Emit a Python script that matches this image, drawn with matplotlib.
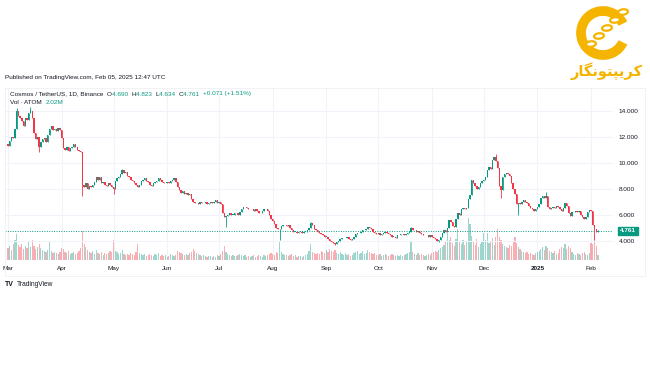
import matplotlib
matplotlib.use("Agg")
import matplotlib.pyplot as plt
import numpy as np
import pandas as pd
from matplotlib.patches import Rectangle, Arc, Ellipse

# ATOM/USDT daily closes, 2024-03-01 .. 2025-02-05
closes = [
    11.3, 11.7, 12.0, 11.9, 12.6, 14.0, 13.6, 13.4, 13.2, 12.8, 13.4, 13.3, 13.8, 14.0,
    13.4, 12.3, 11.8, 12.0, 11.2, 11.6, 11.8, 11.9, 11.6, 12.1, 12.6, 12.8, 12.5, 12.6,
    12.4, 12.7, 12.5,
    11.9, 11.1, 11.0, 11.2, 10.9, 11.1, 11.2, 11.4, 11.2, 11.0, 10.9, 10.8, 8.3, 8.1,
    8.4, 8.0, 8.2, 8.1, 8.3, 8.5, 8.9, 8.7, 8.9, 8.4, 8.5, 8.3, 8.2, 8.4, 8.3, 8.1,
    8.0, 8.6, 8.8, 8.9, 9.1, 9.4, 9.2, 9.3, 9.0, 8.9, 8.7, 8.6, 8.4, 8.3, 8.1, 8.3,
    8.6, 8.7, 8.8, 8.6, 8.5, 8.3, 8.2, 8.4, 8.5, 8.6, 8.8, 8.7, 8.5, 8.4, 8.4,
    8.5, 8.4, 8.6, 8.7, 8.8, 8.5, 8.1, 7.9, 7.7, 7.8, 7.6, 7.7, 7.5, 7.6, 7.2, 7.0,
    6.9, 6.9, 6.8, 7.0, 6.9, 6.9, 7.0, 6.8, 6.9, 7.0, 6.9, 7.0, 7.1, 6.9,
    7.0, 6.8, 6.1, 5.8, 5.9, 6.0, 6.1, 6.0, 6.0, 6.1, 6.1, 6.0, 6.2, 6.4, 6.6, 6.6,
    6.5, 6.4, 6.4, 6.4, 6.3, 6.4, 6.3, 6.1, 6.1, 6.3, 6.4, 6.4, 6.3, 6.0, 5.7,
    5.5, 5.3, 5.0, 4.9, 4.9, 5.1, 5.2, 5.2, 5.1, 5.2, 5.0, 4.8, 4.7, 4.7, 4.6, 4.7,
    4.7, 4.6, 4.7, 4.7, 4.8, 5.0, 5.35, 5.2, 4.9, 4.8, 4.7, 4.6, 4.5, 4.4, 4.3,
    4.3, 4.1, 4.0, 3.9, 3.8, 3.75, 3.9, 4.0, 4.1, 4.2, 4.2, 4.2, 4.25, 4.1, 4.05,
    4.1, 4.3, 4.5, 4.6, 4.6, 4.7, 4.8, 4.8, 4.9, 5.05, 5.0, 4.9, 4.7, 4.6, 4.5,
    4.6, 4.4, 4.5, 4.6, 4.7, 4.6, 4.5, 4.4, 4.3, 4.3, 4.2, 4.4, 4.4, 4.5, 4.5, 4.4,
    4.5, 4.6, 4.7, 4.95, 4.8, 4.8, 4.7, 4.75, 4.6, 4.5, 4.4, 4.4, 4.4, 4.3, 4.4,
    4.3, 4.2, 4.1, 4.0, 4.05, 4.3, 4.6, 4.8, 4.7, 5.0, 5.6, 5.4, 5.1, 5.05, 5.7, 6.1,
    6.0, 6.4, 6.5, 6.4, 6.5, 7.2, 7.5, 8.7, 8.4, 8.2, 8.0, 8.1, 8.4, 8.6,
    8.7, 8.9, 9.4, 9.7, 9.5, 10.2, 10.4, 10.1, 9.6, 8.2, 7.9, 8.9, 9.1, 9.2, 9.1, 9.0,
    8.4, 8.0, 7.6, 6.8, 6.9, 6.8, 7.0, 7.1, 7.0, 6.9, 6.7, 6.5, 6.4, 6.3, 6.4,
    6.6, 6.8, 7.3, 7.4, 7.3, 7.4, 6.6, 6.4, 6.5, 6.6, 6.5, 6.7, 6.6, 6.4, 6.3, 6.5,
    6.9, 6.7, 6.1, 5.9, 6.2, 6.2, 6.3, 6.2, 6.3, 6.0, 5.8, 5.7, 5.8, 6.2, 6.35,
    6.3, 5.2, 4.9, 4.69, 4.761,
]
first_open = 11.4

# visible wicks (day index -> price)
wick_highs = {5: 14.2, 13: 14.3, 66: 9.5, 175: 5.45, 233: 5.05, 282: 10.7, 311: 7.75, 341: 4.823}
wick_lows = {18: 10.8, 43: 7.4, 61: 7.6, 126: 5.05, 157: 4.05, 189: 3.65, 249: 3.9,
             285: 7.3, 295: 6.0, 339: 4.05, 341: 4.634}

# daily volume, millions of ATOM
volumes = [
    4.8, 5.6, 4.0, 6.4, 8.0, 10.4, 6.0, 5.2, 6.4, 4.4, 5.6, 4.8, 7.2, 5.2,
    8.0, 5.6, 4.4, 5.2, 6.4, 4.8, 4.0, 3.6, 3.2, 4.0, 7.2, 3.6, 2.8, 3.2, 2.8, 2.4, 3.2,
    4.8, 4.4, 3.2, 2.8, 3.6, 2.4, 2.8, 3.2, 2.4, 2.8, 3.6, 4.8, 11.6,
    6.4, 5.2, 4.0, 3.2, 2.8, 3.6, 2.4, 4.0, 2.8, 2.4, 3.2, 2.0, 2.8, 2.4,
    2.8, 3.6, 3.2, 8.0, 3.6, 3.2, 2.4, 2.8, 4.0, 2.4, 2.0, 2.4, 2.0, 2.8, 2.4, 2.0, 3.2, 6.4,
    2.8, 2.4, 2.0, 2.4, 1.6, 2.0, 2.4, 2.0, 1.6, 2.4, 2.0, 2.8, 1.6, 2.0,
    1.6, 2.0, 1.2, 1.6, 2.4, 2.0, 1.6, 2.0, 3.6, 3.2, 2.8, 2.4, 2.0, 2.4,
    2.0, 2.8, 3.2, 4.4, 3.6, 2.8, 2.4, 2.0, 1.6, 2.0, 1.6, 1.2, 1.6, 1.6,
    1.2, 1.6, 1.2, 2.0, 1.6, 2.4, 3.6, 5.6, 3.2, 2.4, 2.0, 1.6, 2.0, 1.6,
    1.6, 2.0, 2.4, 2.0, 1.6, 2.0, 1.2, 1.6, 1.2, 1.6, 2.0, 1.2, 1.6, 2.0,
    1.6, 1.2, 2.0, 1.6, 2.0, 2.4, 2.8, 2.4, 2.0, 3.2, 2.8, 7.6,
    3.2, 2.4, 2.0, 2.0, 1.6, 2.0, 2.4, 1.6, 2.0, 1.2, 1.6, 1.6, 1.2, 1.6,
    2.0, 2.4, 3.6, 6.4, 3.2, 2.8, 2.4, 2.8, 2.4, 3.6, 3.2, 2.8, 4.0, 3.2,
    4.4, 3.6, 3.2, 4.0, 2.8, 2.4, 3.2, 2.4, 2.0, 2.8, 2.0, 2.4, 1.6, 2.0,
    2.8, 3.2, 3.6, 2.4, 2.8, 3.6, 2.4, 2.8, 4.0, 3.2, 2.8, 2.4, 2.8, 2.0,
    2.0, 2.4, 1.6, 2.0, 2.4, 2.0, 1.6, 2.0, 2.4, 2.0, 1.6, 2.0, 1.6, 2.0,
    1.6, 2.0, 2.4, 2.8, 3.2, 7.6, 3.2, 2.4, 2.0, 2.8, 2.0, 2.4, 2.0, 1.6,
    2.0, 2.4, 2.0, 2.8, 3.2, 3.6, 3.2,
    4.0, 4.8, 5.2, 6.0, 7.2, 11.0, 8.0, 9.2, 6.8, 5.6, 8.4, 12.4, 7.2, 6.4, 8.0, 6.0,
    7.6, 17.0, 14.4, 9.6, 7.2, 6.0, 8.4, 5.2, 6.4, 7.6, 11.0, 8.0, 11.0, 6.8, 7.6,
    8.8, 6.0, 9.2, 12.4, 9.2, 8.0, 6.4, 5.6, 5.2, 4.8, 6.0, 5.6, 7.2, 9.2, 6.8,
    5.2, 4.4, 3.6, 3.2, 2.8, 3.2, 2.4, 2.8, 2.4, 2.0, 2.8, 3.2, 3.6, 4.4, 5.2,
    4.0, 5.6, 4.8, 3.6, 3.2, 2.8, 3.6, 2.4, 2.8, 4.4, 5.2, 4.8, 6.4, 4.4, 5.6,
    4.8, 3.2, 2.4, 2.0, 2.8, 2.4, 2.0, 2.8, 3.2, 2.4, 2.0, 2.8, 6.8, 6.4, 10.8,
    5.6, 2.02,
]

price_ticks = [4, 6, 8, 10, 12, 14]
last_price = 4.761

UP = "#089981"
DOWN = "#F23645"
TXT = "#131722"
GRID = "#F0F3FA"
GOLD = "#F5B400"

W, H = 650, 365


def fx(x):
    return x / W


def fy(y):
    return 1 - y / H


dates = pd.date_range("2024-03-01", periods=len(closes), freq="D")
days = np.arange(len(closes))
c = np.array(closes)
o = np.concatenate([[first_open], c[:-1]])
hi = np.maximum(o, c)
lo = np.minimum(o, c)
for d, v in wick_highs.items():
    hi[d] = v
for d, v in wick_lows.items():
    lo[d] = v
up = c >= o
cols = np.where(up, UP, DOWN)

plt.rcParams["font.family"] = ["Liberation Sans", "DejaVu Sans"]
fig = plt.figure(figsize=(6.5, 3.65), dpi=100)
fig.patch.set_facecolor("white")

rect = [fx(5), fy(260), (613 - 5) / W, (260 - 88) / H]
vax = fig.add_axes(rect)
ax = fig.add_axes(rect, sharex=vax)
ax.patch.set_visible(False)

# volume underneath
vax.bar(days, volumes, width=0.7, color=cols, alpha=0.4, linewidth=0)
vax.set_ylim(0, 68.8)
vax.set_yticks([])
for s in vax.spines.values():
    s.set_visible(False)
vax.set_facecolor("white")

# grid
month_pos = [i for i, dt in enumerate(dates) if dt.day == 1]
month_lbl = ["2025" if (dates[i].month == 1) else dates[i].strftime("%b") for i in month_pos]
for p in month_pos:
    vax.axvline(p, color=GRID, lw=0.8, zorder=0)
for t in price_ticks:
    ax.axhline(t, color=GRID, lw=0.8, zorder=0)

# candles
ax.vlines(days, lo, hi, colors=cols, lw=0.6, zorder=2)
ax.bar(days, np.maximum(np.abs(c - o), 0.03), bottom=np.minimum(o, c),
       width=0.8, color=cols, linewidth=0, zorder=3)

ax.axhline(last_price, color=UP, lw=0.7, ls=(0, (1, 1.5)), zorder=1)

ax.set_xlim(-1.73, 349.7)
ax.set_ylim(2.515, 15.746)
ax.yaxis.tick_right()
ax.set_yticks(price_ticks)
ax.set_yticklabels([f"{t:.3f}" for t in price_ticks])
ax.tick_params(axis="y", length=0, pad=4, labelsize=4.6, labelcolor=TXT)
ax.set_xticks(month_pos)
ax.set_xticklabels(month_lbl)
ax.tick_params(axis="x", length=0, pad=4, labelsize=4.6, labelcolor=TXT)
for lbl in ax.get_xticklabels():
    if lbl.get_text() == "2025":
        lbl.set_fontweight("bold")
vax.tick_params(axis="x", labelbottom=False, length=0)
for s in ax.spines.values():
    s.set_visible(False)

# last price tag
fig.text(fx(628), fy(231), "4.761", fontsize=4.6, color="white", ha="center", va="center",
         fontweight="bold",
         bbox=dict(boxstyle="square,pad=0.3", fc=UP, ec=UP))

# frame
fig.patches.append(Rectangle((fx(5), fy(276)), (645 - 5) / W, (276 - 88) / H,
                             transform=fig.transFigure, fill=False, ec="#EEF0F4", lw=0.6))

# header text
renderer = fig.canvas.get_renderer()


def text_run(x_px, y_px, parts, size):
    x = x_px
    for s, color in parts:
        t = fig.text(fx(x), fy(y_px), s, color=color, fontsize=size, ha="left", va="center")
        x += t.get_window_extent(renderer).width


fig.text(fx(5), fy(78), "Published on TradingView.com, Feb 05, 2025 12:47 UTC",
         fontsize=4.6, color=TXT, ha="left", va="center")
text_run(10, 94, [("Cosmos / TetherUS, 1D, Binance  ", TXT), ("O", TXT), ("4.690  ", UP),
                  ("H", TXT), ("4.823  ", UP), ("L", TXT), ("4.634  ", UP),
                  ("C", TXT), ("4.761  ", UP), ("+0.071 (+1.51%)", UP)], 4.6)
text_run(10, 102, [("Vol \u00b7 ATOM  ", TXT), ("2.02M", UP)], 4.6)

# TradingView footer
fig.text(fx(5), fy(284), "TV", fontsize=5, fontweight="bold", color=TXT, ha="left", va="center")
fig.text(fx(17), fy(284), "TradingView", fontsize=4.8, color=TXT, ha="left", va="center")

# logo: gold C crossed by a chain, name underneath
fig.patches.append(Arc((fx(603), fy(33)), 44 / W, 44 / H, theta1=40, theta2=320,
                       transform=fig.transFigure, color=GOLD, lw=7))
for i in range(5):
    cx = 623 - i * 8
    cy = 12 + i * 8
    fig.patches.append(Ellipse((fx(cx), fy(cy)), 9 / W, 6 / H, angle=-45,
                               transform=fig.transFigure, fc="white", ec=GOLD, lw=1.6))
fig.text(fx(607), fy(71), "\uFEAD\uFE8E\uFB95\uFEE7\uFEEE\uFE98\uFB59\uFBFE\uFEAE\uFB90",
         fontsize=10.5, color=GOLD, ha="center", va="center", family="DejaVu Sans",
         fontweight="bold")

fig.savefig("out.png", dpi=100, facecolor="white")
